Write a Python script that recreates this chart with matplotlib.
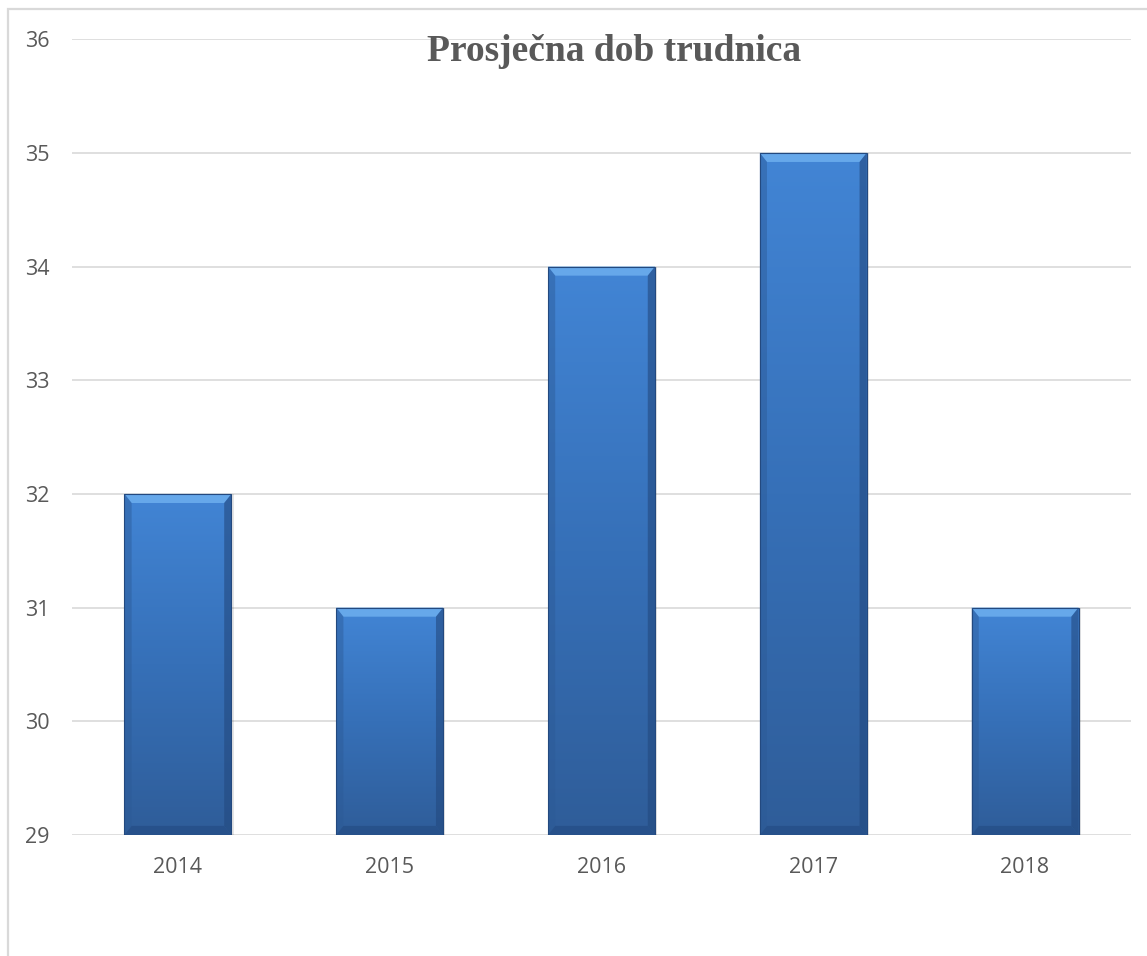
import numpy as np
import matplotlib.pyplot as plt
from matplotlib.patches import Rectangle, Polygon
from matplotlib.colors import LinearSegmentedColormap

years = ['2014', '2015', '2016', '2017', '2018']
ages = [32, 31, 34, 35, 31]
yticks = [29, 30, 31, 32, 33, 34, 35, 36]

fig = plt.figure(figsize=(11.47, 9.56), dpi=100)
ax = fig.add_axes([0.0628, 0.1266, 0.9232, 0.8324])

# outer chart frame (cut off on right and bottom like the reference)
fig.patches.append(Rectangle((8 / 1147, -0.1), 1.2, 1 - 9 / 956 + 0.1,
                             transform=fig.transFigure, fill=False,
                             edgecolor='#d9d9d9', linewidth=1.6, zorder=0))

x = np.arange(len(years))
bars = ax.bar(x, ages, width=0.505, bottom=0, color='#3d7fcf', zorder=2)

grad = LinearSegmentedColormap.from_list('g', ['#2f5d99', '#3670b8', '#4285d5'])
g = np.linspace(0, 1, 256).reshape(-1, 1)
for b in bars:
    x0, w, h = b.get_x(), b.get_width(), b.get_height()
    y0 = 29
    # soft shadow on the right
    ax.add_patch(Rectangle((x0 + 0.01, y0), w, h - y0, color='#000000',
                           alpha=0.10, zorder=1, linewidth=0))
    b.set_y(y0)
    b.set_height(h - y0)
    im = ax.imshow(g, cmap=grad, origin='lower', aspect='auto',
                   extent=(x0, x0 + w, y0, h), zorder=3)
    im.set_clip_path(b)
    bx, by = 0.034, 0.08
    # bevel: top light, sides darker, bottom dark
    ax.add_patch(Polygon([(x0, h), (x0 + w, h), (x0 + w - bx, h - by), (x0 + bx, h - by)],
                         closed=True, color='#66a8ea', linewidth=0, zorder=4))
    ax.add_patch(Polygon([(x0, h), (x0 + bx, h - by), (x0 + bx, y0 + by), (x0, y0)],
                         closed=True, color='#2c5a96', alpha=0.45, linewidth=0, zorder=4))
    ax.add_patch(Polygon([(x0 + w, h), (x0 + w - bx, h - by), (x0 + w - bx, y0 + by), (x0 + w, y0)],
                         closed=True, color='#23497f', alpha=0.6, linewidth=0, zorder=4))
    ax.add_patch(Polygon([(x0, y0), (x0 + bx, y0 + by), (x0 + w - bx, y0 + by), (x0 + w, y0)],
                         closed=True, color='#264f88', alpha=0.8, linewidth=0, zorder=4))
    ax.add_patch(Rectangle((x0, y0), w, h - y0, fill=False, edgecolor='#23497f',
                           linewidth=0.8, zorder=5))

ax.set_xlim(-0.5, len(years) - 0.5)
ax.set_ylim(29, 36)
ax.set_yticks(yticks)
ax.set_xticks(x)
ax.set_xticklabels(years)
ax.grid(axis='y', color='#d9d9d9', linewidth=1.2, zorder=0)
ax.set_axisbelow(True)
for s in ax.spines.values():
    s.set_visible(False)
ax.tick_params(length=0, labelsize=15.5, labelcolor='#595959', pad=16)
for lab in ax.get_xticklabels() + ax.get_yticklabels():
    lab.set_family('Open Sans')

fig.text(0.535, 0.946, 'Prosječna dob trudnica', ha='center', va='center',
         fontsize=27, fontweight='bold', color='#595959', family='Liberation Serif')

plt.savefig('out.png', dpi=100)
